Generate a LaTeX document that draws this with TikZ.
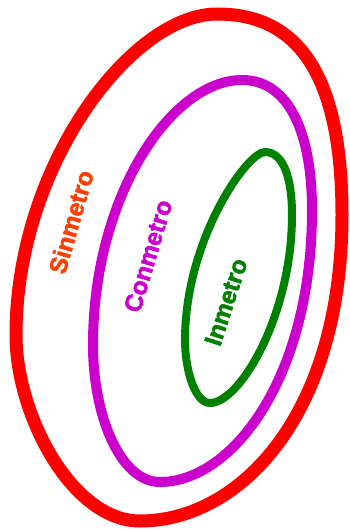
\documentclass[tikz,border=0pt]{standalone}
\usepackage{fontspec}
\setmainfont{Liberation Sans}
\newfontfamily\lblfont[FakeBold=2]{Liberation Sans Bold}
\definecolor{ringred}{RGB}{255,0,0}
\definecolor{ringmag}{RGB}{204,0,204}
\definecolor{ringgreen}{RGB}{0,128,0}
\definecolor{labelred}{RGB}{255,64,0}
\tikzset{
  lbl/.style={font=\lblfont\fontsize{24.5}{28}\selectfont, inner sep=0pt, rotate=74}
}
\begin{document}
\begin{tikzpicture}[x=1pt,y=-1pt]
\useasboundingbox (0,0) rectangle (349,530);
% outer ring
\draw[ringred, line width=13pt]
  (217,14) .. controls (295,14) and (342,70) .. (342,215)
  .. controls (342,415) and (240,521) .. (140,521)
  .. controls (72,521) and (16,415) .. (16,335)
  .. controls (16,165) and (132,14) .. (217,14) -- cycle;
% middle ring
\draw[ringmag, line width=10pt]
  (242,80) .. controls (290,80) and (312,135) .. (312,210)
  .. controls (312,378) and (232,482) .. (160,482)
  .. controls (120,482) and (93,415) .. (93,345)
  .. controls (93,195) and (172,80) .. (242,80) -- cycle;
% inner ring
\draw[ringgreen, line width=8pt]
  (265,152) .. controls (283,152) and (292,177) .. (292,215)
  .. controls (292,315) and (240,403) .. (210,403)
  .. controls (195,403) and (185,370) .. (185,340)
  .. controls (185,240) and (247,152) .. (265,152) -- cycle;
\node[lbl, text=labelred] (sin) at (71,222) {Sinmetro};
\node[lbl, text=ringmag, rotate=-0.5] (con) at (148,256) {Conmetro};
\node[lbl, text=ringgreen, rotate=-2] (inm) at (226,302) {Inmetro};
\end{tikzpicture}
\end{document}
